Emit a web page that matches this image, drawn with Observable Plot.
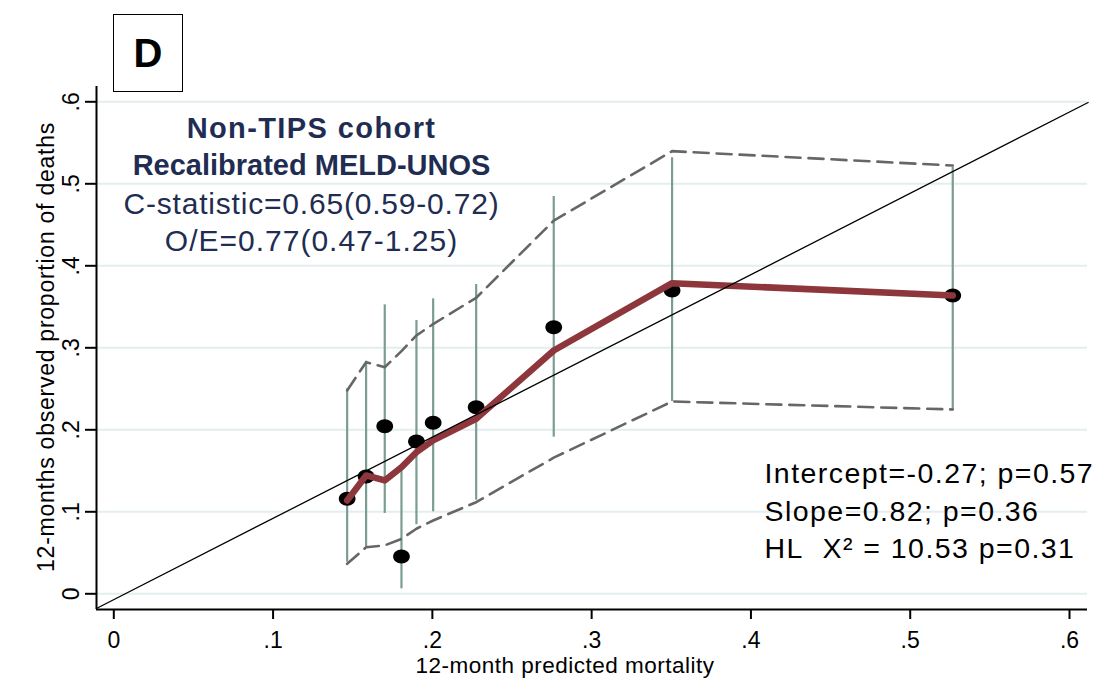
<!DOCTYPE html>
<html>
<head>
<meta charset="utf-8">
<script src="https://cdn.jsdelivr.net/npm/d3@7"></script>
<script src="https://cdn.jsdelivr.net/npm/@observablehq/plot@0.6"></script>
<style>
  body { margin: 0; background: #fff; }
  #wrap { position: relative; width: 1119px; height: 680px; }
  #tag {
    position: absolute; left: 113px; top: 14px; width: 70px; height: 78px;
    box-sizing: border-box; border: 1.5px solid #000; z-index: 2;
    font: bold 40px "Liberation Sans", Arial, sans-serif;
    display: flex; align-items: center; justify-content: center; color: #000;
  }
</style>
</head>
<body>
<div id="wrap"><div id="tag">D</div></div>
<script>
// ---- Data ----
const predicted = [0.1465, 0.1584, 0.1701, 0.1806, 0.1900, 0.2005, 0.2275, 0.2762, 0.3505, 0.5267];
const observed  = [0.1159, 0.1430, 0.2044, 0.0455, 0.1857, 0.2085, 0.2276, 0.3252, 0.3700, 0.3638];
const ciLow     = [0.0385, 0.0569, 0.0980, 0.0060, 0.0843, 0.1000, 0.1142, 0.1910, 0.2345, 0.2235];
const ciHigh    = [0.2500, 0.2837, 0.3524, 0.1540, 0.3333, 0.3597, 0.3772, 0.4845, 0.5317, 0.5203];
const smoothed  = [0.1138, 0.1443, 0.1382, 0.1544, 0.1727, 0.1870, 0.2134, 0.2967, 0.3788, 0.3638];
const bandUpper = [0.2480, 0.2824, 0.2763, 0.2960, 0.3150, 0.3290, 0.3610, 0.4550, 0.5398, 0.5223];
const bandLower = [0.0366, 0.0568, 0.0590, 0.0670, 0.0793, 0.0894, 0.1117, 0.1660, 0.2345, 0.2248];
const refX = [-0.0109, 0.6117];
const refY = [-0.0179, 0.5991];

const xTicks = [0, 0.1, 0.2, 0.3, 0.4, 0.5, 0.6];
const yTicks = [0, 0.1, 0.2, 0.3, 0.4, 0.5, 0.6];

const xTitle = "12-month predicted mortality";
const yTitle = "12-months observed proportion of deaths";
const headLines = ["Non-TIPS cohort", "Recalibrated MELD-UNOS"];
const statLines = ["C-statistic=0.65(0.59-0.72)", "O/E=0.77(0.47-1.25)"];
const testLines = ["Intercept=-0.27; p=0.57", "Slope=0.82; p=0.36", "HL\u00a0\u00a0X\u00b2 = 10.53 p=0.31"];

// ---- Build table ----
const rows = predicted.map((p, i) => ({
  p, obs: observed[i], lo: ciLow[i], hi: ciHigh[i],
  sm: smoothed[i], up: bandUpper[i], dn: bandLower[i]
}));
const ref = refX.map((x, i) => ({x, y: refY[i]}));

const fmt = d => d === 0 ? "0" : d3.format(".1f")(d).replace(/^0/, "");

const xDomain = [-0.01086, 0.6113];
const yDomain = [-0.01915, 0.61866];

const navy = "#1f2d52";
const font = "'Liberation Sans', Arial, Helvetica, sans-serif";

// ellipse-shaped symbol (dots are slightly wider than tall)
const ellipse = {
  draw(ctx, size) {
    const r = Math.sqrt(size / Math.PI);
    const rx = r * 1.1, ry = r * 0.92, k = 0.5523;
    ctx.moveTo(rx, 0);
    ctx.bezierCurveTo(rx, k * ry, k * rx, ry, 0, ry);
    ctx.bezierCurveTo(-k * rx, ry, -rx, k * ry, -rx, 0);
    ctx.bezierCurveTo(-rx, -k * ry, -k * rx, -ry, 0, -ry);
    ctx.bezierCurveTo(k * rx, -ry, rx, -k * ry, rx, 0);
    ctx.closePath();
  }
};

const chart = Plot.plot({
  width: 1119,
  height: 680,
  marginLeft: 96,
  marginRight: 32,
  marginTop: 86,
  marginBottom: 71,
  style: {fontFamily: font, background: "#fff", color: "#000", overflow: "visible"},
  x: {domain: xDomain, label: null},
  y: {domain: yDomain, label: null},
  marks: [
    Plot.gridY(yTicks, {stroke: "#e4eef0", strokeOpacity: 1, strokeWidth: 2}),
    Plot.ruleX([xDomain[0]], {stroke: "#000", strokeWidth: 2}),
    Plot.ruleY([yDomain[0]], {stroke: "#000", strokeWidth: 2}),
    Plot.axisX(xTicks, {tickSize: 10, tickPadding: 12, tickFormat: fmt, fontSize: 23, stroke: "#000", strokeWidth: 2, fill: "#000", label: null}),
    Plot.axisY(yTicks, {tickSize: 11, tickPadding: 7, tickRotate: -90, tickFormat: fmt, fontSize: 23, stroke: "#000", strokeWidth: 2, fill: "#000", label: null}),
    // error bars
    Plot.ruleX(rows, {x: "p", y1: "lo", y2: "hi", stroke: "#7b9c90", strokeWidth: 2.2}),
    // confidence band (dashed)
    Plot.line(rows, {x: "p", y: "up", stroke: "#666", strokeWidth: 2.6, strokeDasharray: "15,8"}),
    Plot.line(rows, {x: "p", y: "dn", stroke: "#666", strokeWidth: 2.6, strokeDasharray: "15,8"}),
    // observed points
    Plot.dot(rows, {x: "p", y: "obs", r: 7.6, fill: "#000", symbol: ellipse}),
    // smoothed calibration curve
    Plot.line(rows, {x: "p", y: "sm", stroke: "#8d363c", strokeWidth: 6.5, strokeLinejoin: "round"}),
    // reference diagonal
    Plot.line(ref, {x: "x", y: "y", stroke: "#000", strokeWidth: 1.3}),
    // axis titles
    Plot.text([xTitle], {text: d => d, frameAnchor: "bottom", textAnchor: "middle", dx: -27, dy: 63, lineAnchor: "bottom", fontSize: 22.5, fill: "#000"}),
    Plot.text([yTitle], {text: d => d, frameAnchor: "left", textAnchor: "middle", dx: -43, dy: -1, rotate: -90, lineAnchor: "bottom", fontSize: 23, fill: "#000"}),
    // annotations (top-left)
    Plot.text([headLines[0]], {text: d => d, frameAnchor: "top-left", dx: 215, dy: 51.7, textAnchor: "middle", lineAnchor: "bottom", fontSize: 29, fontWeight: "bold", fill: navy}),
    Plot.text([headLines[1]], {text: d => d, frameAnchor: "top-left", dx: 215, dy: 88, textAnchor: "middle", lineAnchor: "bottom", fontSize: 29, fontWeight: "bold", fill: navy}),
    Plot.text([statLines[0]], {text: d => d, frameAnchor: "top-left", dx: 215, dy: 127.3, textAnchor: "middle", lineAnchor: "bottom", fontSize: 30, fill: navy}),
    Plot.text([statLines[1]], {text: d => d, frameAnchor: "top-left", dx: 215, dy: 164, textAnchor: "middle", lineAnchor: "bottom", fontSize: 30, fill: navy}),
    // annotations (bottom-right)
    Plot.text([testLines[0]], {text: d => d, frameAnchor: "top-left", dx: 668, dy: 396.3, textAnchor: "start", lineAnchor: "bottom", fontSize: 28.5, fill: "#000"}),
    Plot.text([testLines[1]], {text: d => d, frameAnchor: "top-left", dx: 668, dy: 434, textAnchor: "start", lineAnchor: "bottom", fontSize: 28.5, fill: "#000"}),
    Plot.text([testLines[2]], {text: d => d, frameAnchor: "top-left", dx: 668, dy: 471.3, textAnchor: "start", lineAnchor: "bottom", fontSize: 28.5, fill: "#000"})
  ]
});

// letter spacing tweaks to mimic the wider original typeface
const spacing = new Map([
  [xTitle, 0.5], [yTitle, 0.75],
  [headLines[0], 1.4],
  [statLines[0], 0.8], [statLines[1], 1.0],
  [testLines[0], 1.45], [testLines[1], 1.45], [testLines[2], 1.45]
]);
chart.querySelectorAll("text").forEach(t => {
  const s = spacing.get(t.textContent);
  if (s != null) t.setAttribute("letter-spacing", s);
});

document.getElementById("wrap").appendChild(chart);
</script>
</body>
</html>
